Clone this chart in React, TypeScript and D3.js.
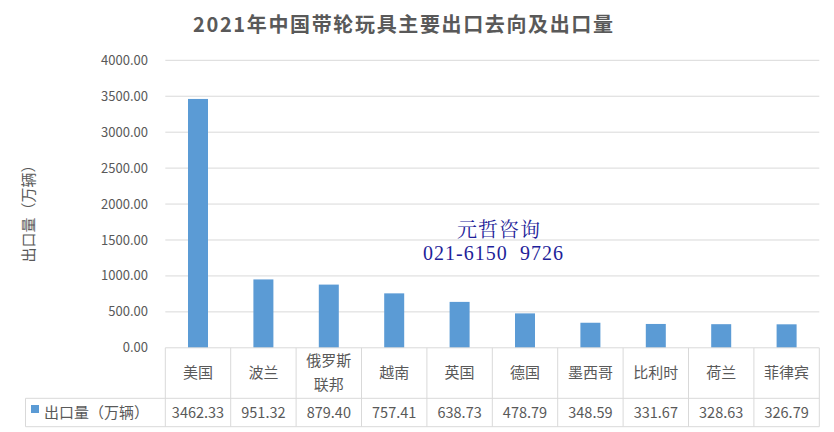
import React from "react";
import * as d3 from "d3";

const categories = ["美国", "波兰", "俄罗斯联邦", "越南", "英国", "德国", "墨西哥", "比利时", "荷兰", "菲律宾"];
const categoryLines = [["美国"], ["波兰"], ["俄罗斯", "联邦"], ["越南"], ["英国"], ["德国"], ["墨西哥"], ["比利时"], ["荷兰"], ["菲律宾"]];
const values = [3462.33, 951.32, 879.4, 757.41, 638.73, 478.79, 348.59, 331.67, 328.63, 326.79];
const yTicks = [0, 500, 1000, 1500, 2000, 2500, 3000, 3500, 4000];
const title = "2021年中国带轮玩具主要出口去向及出口量";
const seriesName = "出口量（万辆）";
const yLabel = "出口量（万辆）";

const W = 834, H = 432;
const plotL = 165.3, plotR = 819.3, plotT = 60.3, plotB = 347.8;
const rowHeaderB = 398.3, rowDataB = 426.7, tableL = 25.5;
const font = "'Noto Sans CJK SC', 'Noto Sans', sans-serif";
const txt = "#595959";
const grid = "#D9D9D9";
const barColor = "#5B9BD5";

export default function App() {
  const x = d3.scaleBand<string>().domain(categories).range([plotL, plotR]).paddingInner(0).paddingOuter(0);
  const y = d3.scaleLinear().domain([0, 4000]).range([plotB, plotT]);
  const bw = x.bandwidth();
  const barW = 20;
  return (
    <svg width={W} height={H} style={{ position: "absolute", left: 0, top: 0, background: "#fff" }}>
      <rect x={0} y={0} width={W} height={H} fill="#fff" />
      <text x={403} y={32} textAnchor="middle" fontFamily={font} fontSize={20} fontWeight="bold" fill={txt} textLength={420} lengthAdjust="spacing">{title}</text>
      {yTicks.map((t) => (
        <g key={t}>
          {t > 0 && <line x1={plotL} x2={plotR} y1={y(t)} y2={y(t)} stroke={grid} strokeWidth={1} />}
          <text x={148} y={y(t)} dy="0.35em" textAnchor="end" fontFamily={font} fontSize={13} fill={txt}>{t.toFixed(2)}</text>
        </g>
      ))}
      <text transform={`translate(34,210) rotate(-90)`} textAnchor="middle" fontFamily={font} fontSize={15} fill={txt}>{yLabel}</text>
      {categories.map((c, i) => (
        <rect key={c} x={x(c)! + bw / 2 - barW / 2} y={y(values[i])} width={barW} height={plotB - y(values[i])} fill={barColor} />
      ))}
      {/* table */}
      <line x1={plotL} x2={plotR} y1={plotB} y2={plotB} stroke={grid} />
      <line x1={tableL} x2={plotR} y1={rowHeaderB} y2={rowHeaderB} stroke={grid} />
      <line x1={tableL} x2={plotR} y1={rowDataB} y2={rowDataB} stroke={grid} />
      <line x1={tableL} x2={tableL} y1={rowHeaderB} y2={rowDataB} stroke={grid} />
      <line x1={plotL} x2={plotL} y1={plotB} y2={rowDataB} stroke={grid} />
      {categories.map((c) => (
        <line key={"v" + c} x1={x(c)! + bw} x2={x(c)! + bw} y1={plotB} y2={rowDataB} stroke={grid} />
      ))}
      {categories.map((c, i) => {
        const lines = categoryLines[i];
        const cx = x(c)! + bw / 2;
        const cy = (plotB + rowHeaderB) / 2;
        return (
          <text key={"t" + c} textAnchor="middle" fontFamily={font} fontSize={15} fill={txt}>
            {lines.map((l, j) => (
              <tspan key={j} x={cx} y={cy + (j - (lines.length - 1) / 2) * 24} dy="0.35em">{l}</tspan>
            ))}
          </text>
        );
      })}
      {categories.map((c, i) => (
        <text key={"d" + c} x={x(c)! + bw / 2} y={(rowHeaderB + rowDataB) / 2} dy="0.35em" textAnchor="middle" fontFamily={font} fontSize={14.5} fill={txt}>{values[i].toFixed(2)}</text>
      ))}
      <rect x={31} y={405} width={8} height={8} fill={barColor} />
      <text x={44} y={(rowHeaderB + rowDataB) / 2} dy="0.35em" fontFamily={font} fontSize={15} fill={txt}>{seriesName}</text>
      {/* watermark */}
      <text x={498.5} y={237} textAnchor="middle" fontFamily="'Noto Serif CJK SC', 'DejaVu Serif', serif" fontSize={20} fill="#1F1F9A" textLength={83} lengthAdjust="spacing">元哲咨询</text>
      <text x={493} y={260} textAnchor="middle" fontFamily="'Liberation Serif', serif" fontSize={20} fill="#1F1F9A" textLength={140} lengthAdjust="spacing" style={{ whiteSpace: "pre" }}>{"021-6150  9726"}</text>
    </svg>
  );
}
